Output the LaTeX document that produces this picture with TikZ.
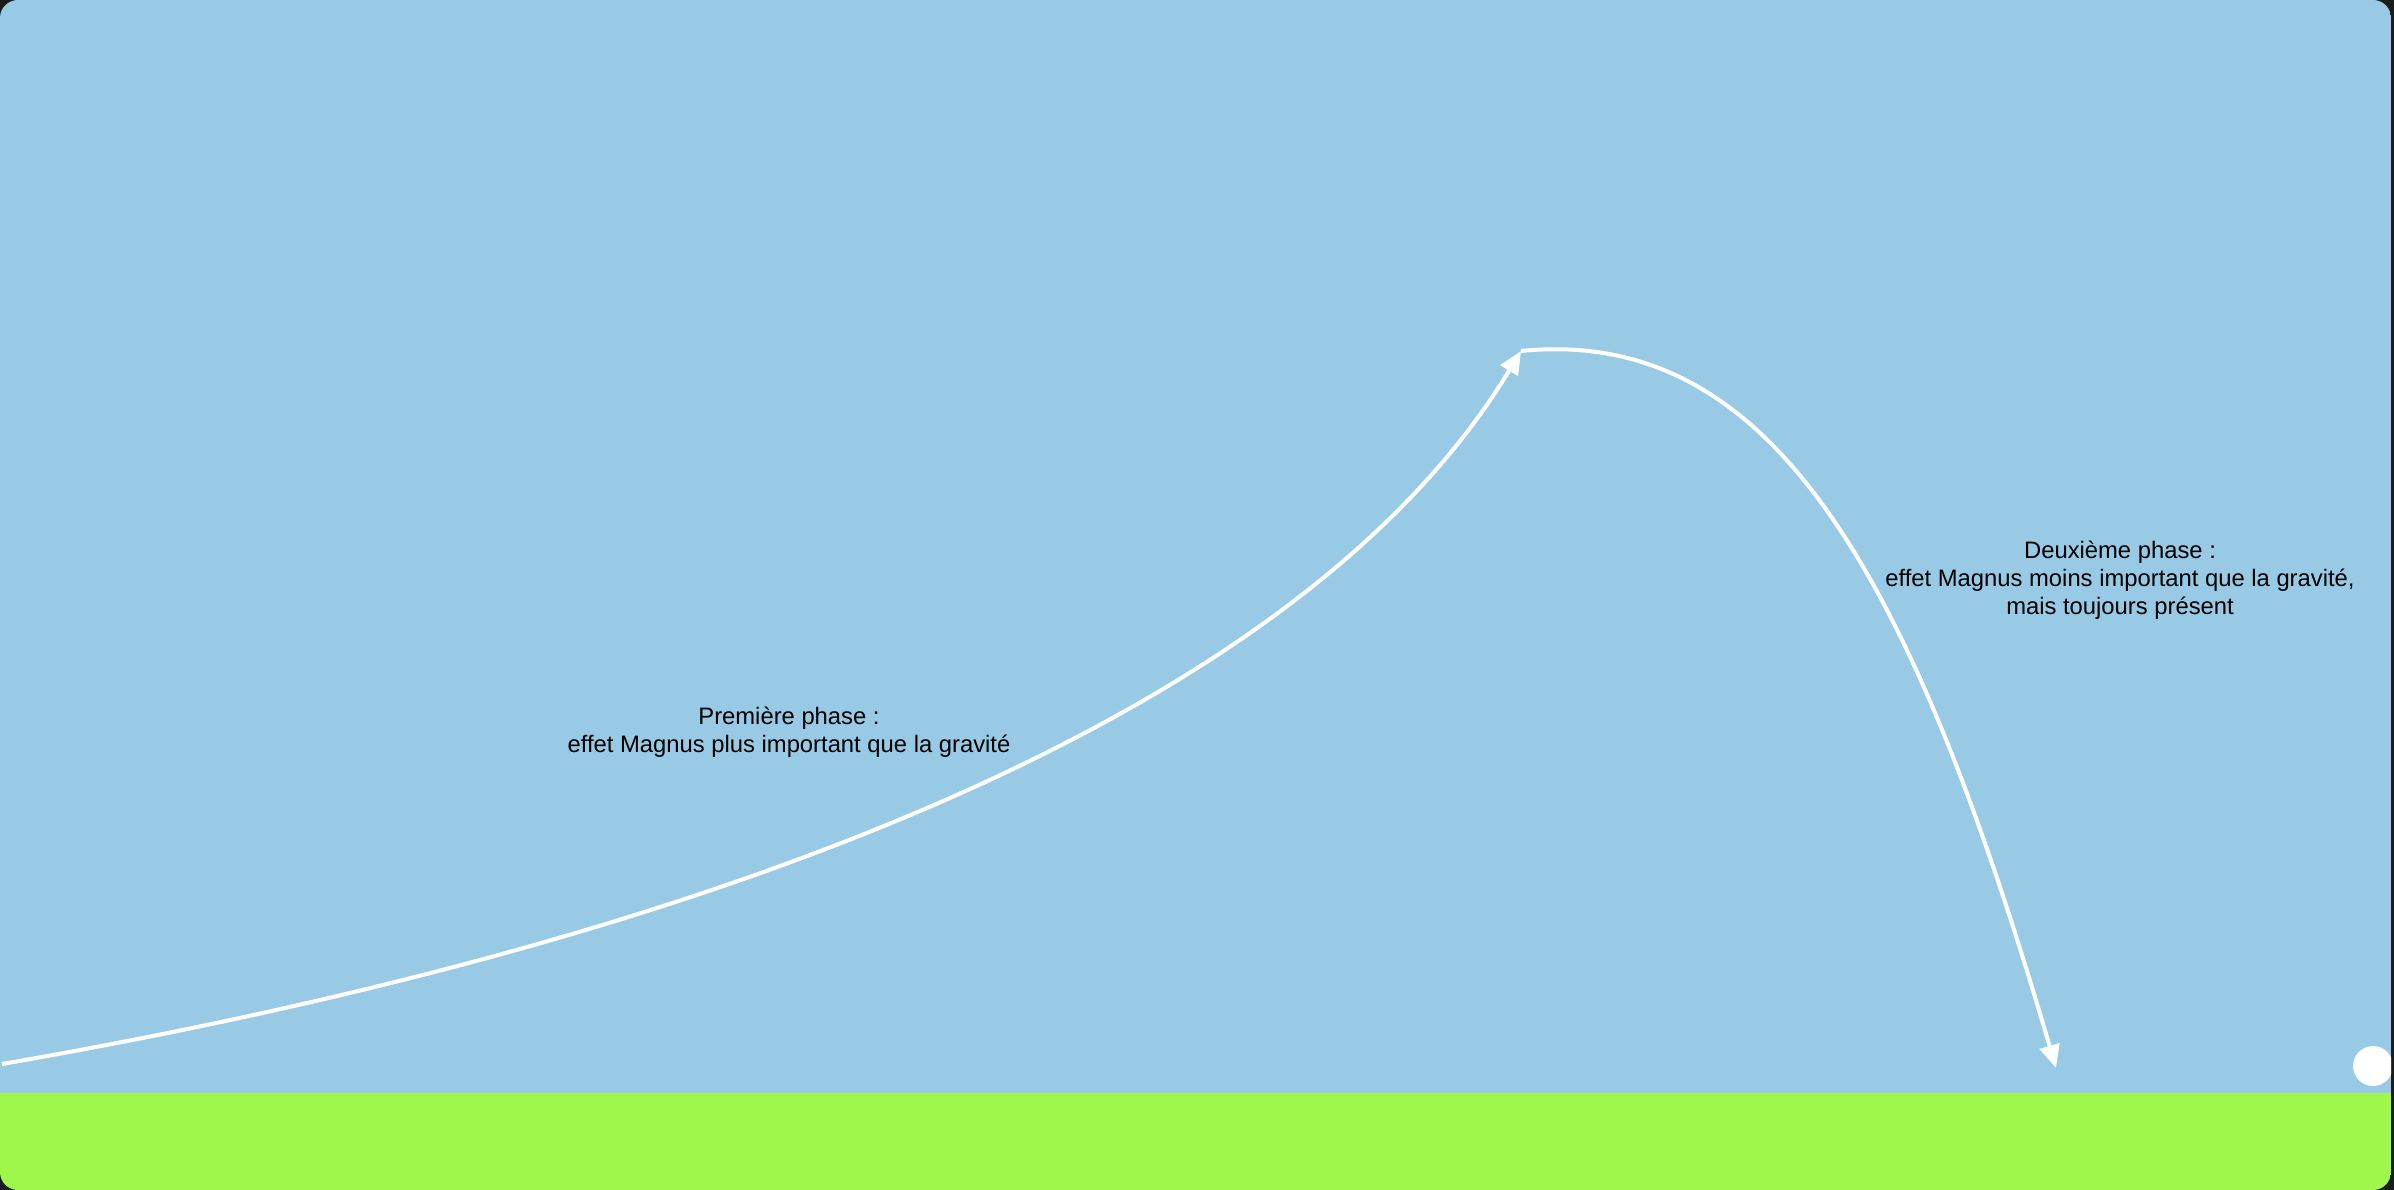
\documentclass[tikz,border=0pt]{standalone}
\usepackage{fontspec}
\setmainfont{Liberation Sans}
\usetikzlibrary{arrows.meta}
\definecolor{sky}{RGB}{152,202,230}
\definecolor{grass}{RGB}{160,247,76}
\definecolor{framedark}{RGB}{28,28,28}
\begin{document}
\begin{tikzpicture}[x=1pt,y=-1pt,
  traj/.style={white, line width=4pt, -{Triangle[length=23pt,width=20pt]}},
  phasetext/.style={font=\fontsize{23.8}{28}\selectfont, align=center, inner sep=0pt, text=black}]
\useasboundingbox (0,0) rectangle (2394,1190);
\fill[framedark] (0,0) rectangle (2394,1190);
\begin{scope}
  \clip[rounded corners=18pt] (0,0) rectangle (2391,1190);
  \fill[sky] (0,0) rectangle (2391,1093);
  \fill[grass] (0,1093) rectangle (2391,1190);
  \node[circle, fill=white, minimum size=40pt, inner sep=0pt] (ball) at (2373,1066) {};
\end{scope}
\coordinate (start) at (2,1064);
\coordinate (apex) at (1521,351);
\coordinate (land) at (2056,1068);
\draw[traj] (start) .. controls (650,952) and (1287,738) .. (apex);
\draw[traj] (apex) .. controls (1771,326) and (1910,569) .. (land);
\node[phasetext] (phase1) at (789,732) {Première phase :\\effet Magnus plus important que la gravité};
\node[phasetext] (phase2) at (2120,580) {Deuxième phase :\\effet Magnus moins important que la gravité,\\mais toujours présent};
\end{tikzpicture}
\end{document}
